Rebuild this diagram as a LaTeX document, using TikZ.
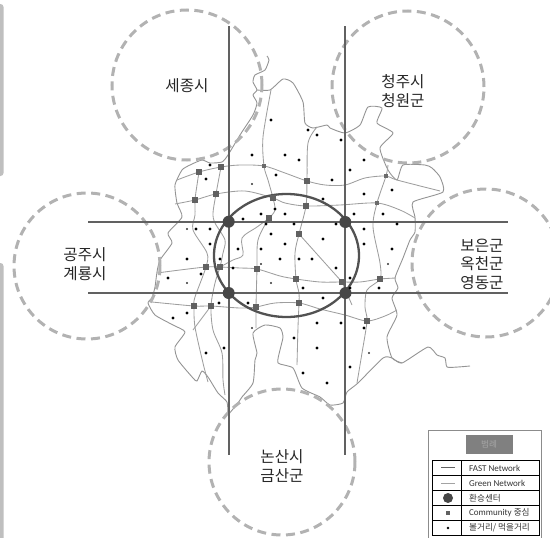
\documentclass[tikz,border=0pt]{standalone}
\usepackage{fontspec}
\setmainfont{Carlito}
\newfontfamily\krfont{Noto Sans CJK KR}
\tikzset{
  mapline/.style={draw=black!42,line width=0.9pt,line join=round},
  greenline/.style={draw=black!38,line width=0.85pt,line join=round},
  fastline/.style={draw=black!62,line width=1.8pt},
  ringline/.style={draw=black!68,line width=2.3pt},
  dashring/.style={draw=black!30,line width=3pt,dash pattern=on 9pt off 5.5pt},
  hubdot/.style={circle,fill=black!72,minimum size=12pt,inner sep=0pt},
  commbox/.style={rectangle,fill=black!62,minimum size=5.6pt,inner sep=0pt},
  smallbox/.style={rectangle,fill=black!58,minimum size=4.2pt,inner sep=0pt},
  place/.style={font=\krfont\fontsize{15.6}{18.6}\selectfont,text=black!85,align=center,inner sep=0pt},
  legtext/.style={font=\krfont\fontsize{8.6}{9}\selectfont,text=black!80,anchor=west,inner sep=0pt},
  latintext/.style={font=\fontsize{9}{9}\selectfont,text=black!80,anchor=west,inner sep=0pt},
}
\begin{document}
\begin{tikzpicture}[x=1pt,y=-1pt]
\useasboundingbox (0,0) rectangle (550,538);
\clip (0,0) rectangle (550,538);
% side tabs
\fill[black!25,rounded corners=3pt] (-10,4) rectangle (3.5,176);
\fill[black!25,rounded corners=3pt] (-10,263) rectangle (3.5,560);
% map outline
\draw[mapline] plot[smooth,tension=0.35] coordinates {(267,56)(269,60)(265,70)(255,75)(253,82)(257,90)(253,95)(257,103)(253,115)(240,135)(228,155)(222,162)(210,163)(202,160)(190,165)(182,170)(175,185)(177,203)(182,217)(168,233)(172,243)(160,260)(157,272)(155,287)(152,298)(148,303)(155,315)(173,325)(185,332)(175,347)(178,360)(193,378)(197,381)(202,371)(208,377)(218,393)(227,402)(228,415)};
\draw[mapline] plot[smooth,tension=0.35] coordinates {(228,415)(238,403)(242,397)(253,383)(255,360)(257,353)(253,333)(265,325)(280,328)(283,337)(280,350)(278,363)(293,368)(302,388)(320,397)(330,405)(343,403)(347,392)(358,383)(383,358)(392,358)(402,363)(428,347)(437,355)(445,358)(447,367)(458,367)(470,366)};
\draw[mapline] plot[smooth,tension=0.35] coordinates {(402,363)(392,358)(387,337)(397,315)(392,298)(398,288)(395,278)(403,258)(410,240)(415,232)(415,217)(413,202)(443,192)(440,177)(432,168)(425,165)(403,165)(397,180)(388,170)(380,148)(393,133)(377,123)(382,108)(368,107)(360,125)(345,133)(330,128)(327,125)(313,128)(305,123)(303,102)(293,83)(283,79)(270,90)(257,90)};
% community nodes
\foreach \n/\p in {a1/{199,172},a2/{221,167},a3/{307,181},a4/{386,176},
  b1/{195,200},b2/{216,194},b3/{273,198},b4/{306,206},b5/{377,203},
  c1/{206,267},c2/{220,267},c3/{257,269},c4/{296,279},c5/{342,282},c6/{380,279},
  d1/{194,306},d2/{211,306},d3/{256,307},d4/{299,303},d5/{367,321},
  e1/{269,218},e2/{299,234}}
  {\coordinate (\n) at (\p);}
% green network
\draw[greenline] plot[smooth,tension=0.5] coordinates {(177,180)(a1)(a2)(240,165)(264,166)(285,173)(a3)(325,185)(345,185)(365,178)(a4)(397,180)(440,191)};
\draw[greenline] plot[smooth,tension=0.5] coordinates {(175,204)(b1)(b2)(245,191)(b3)(285,203)(b4)(340,205)(b5)(400,210)(415,218)};
\draw[greenline] plot[smooth,tension=0.5] coordinates {(157,273)(180,270)(c1)(c2)(240,268)(c3)(280,276)(c4)(320,282)(c5)(360,282)(c6)(396,278)};
\draw[greenline] plot[smooth,tension=0.5] coordinates {(152,302)(d1)(d2)(240,308)(d3)(275,303)(d4)(320,309)(345,315)(d5)(385,316)(397,310)};
\draw[greenline] plot[smooth,tension=0.5] coordinates {(a1)(197,185)(b1)(195,215)(193,230)(207,253)(c1)(195,297)(d1)(195,327)(203,363)(208,382)};
\draw[greenline] (d2) -- (193,330);
\draw[greenline] plot[smooth,tension=0.5] coordinates {(a2)(b2)(213,213)(215,223)(225,240)(223,253)(c2)(215,283)(d2)(213,330)(222,353)(223,380)(225,395)};
\draw[greenline] plot[smooth,tension=0.5] coordinates {(271,90)(263,137)(264,166)(268,180)(b3)(275,210)(e1)(257,227)(242,238)(243,255)(233,260)(c2)};
\draw[greenline] plot[smooth,tension=0.5] coordinates {(e1)(258,240)(c3)(d3)(256,328)};
\draw[greenline] plot[smooth,tension=0.5] coordinates {(317,127)(308,143)(a3)(b4)(e2)(295,253)(c4)(299,293)(d4)(298,327)(297,365)};
\draw[greenline] (e2) -- (c5) -- (352,305);
\draw[greenline] plot[smooth,tension=0.5] coordinates {(388,165)(a4)(b5)(373,227)(380,263)(c6)(367,290)(365,307)(d5)(362,353)(357,383)};
% dashed neighbour circles
\node[place] (sejong) at (187,86) {세종시};
\node[place] (cheongju) at (403,91) {청주시\\청원군};
\node[place] (gongju) at (85,264) {공주시\\계룡시};
\node[place] (boeun) at (482,264) {보은군\\옥천군\\영동군};
\node[place] (nonsan) at (282,466) {논산시\\금산군};
\draw[dashring] (187,85) circle[radius=75pt];
\draw[dashring] (408,87) circle[radius=76pt];
\draw[dashring] (87,266) circle[radius=73pt];
\draw[dashring] (486,263) circle[radius=74pt];
\draw[dashring] (282,462) circle[radius=73pt];
% FAST network
\coordinate (nw) at (228.7,26); \coordinate (sw) at (228.7,455);
\coordinate (ne) at (345,26); \coordinate (se) at (345,455);
\coordinate (wn) at (88,221.7); \coordinate (en) at (508,221.7);
\coordinate (ws) at (88,293); \coordinate (es) at (508,293);
\draw[fastline] (nw) -- (sw);
\draw[fastline] (ne) -- (se);
\draw[fastline] (wn) -- (en);
\draw[fastline] (ws) -- (es);
\draw[ringline] (286.5,255.5) ellipse[x radius=72.5pt,y radius=61.5pt];
\node[hubdot] (h1) at (228.7,221.7) {};
\node[hubdot] (h2) at (345.3,222) {};
\node[hubdot] (h3) at (228.7,293) {};
\node[hubdot] (h4) at (345.5,293) {};
% community squares
\foreach \n in {a1,a2,a3,b1,b2,b3,b4,c1,c2,c3,c4,c5,c6,d1,d2,d3,d4,d5,e1,e2}
  {\node[commbox] at (\n) {};}
\node[smallbox] at (a4) {};
\node[smallbox] at (b5) {};
\node[smallbox] at (264,166) {};
% attractions
\foreach \p in {{271,120},{308,130},{252,155},{285,155},{299,160},{210,165},{206,179},{276,175},{275,209},{261,214},{285,214},{243,219},{266,224},{294,224},{271,234},{196,229},{210,229},{317,135},{341,140},{364,160},{350,170},{332,180},{392,190},{364,194},{323,199},{354,214},{383,214},{336,224},{397,224},{364,229},{323,239},{285,244},{210,244},{261,249},{238,249},{187,259},{220,259},{280,259},{299,259},{233,268},{201,274},{168,278},{303,288},{219,303},{248,303},{187,313},{173,318},{294,338},{224,348},{206,353},{303,373},{364,244},{392,249},{312,259},{336,268},{350,278},{350,288},{379,288},{323,298},{317,323},{341,323},{364,328},{317,348},{350,367},{327,383}}
  {\fill[black] (\p) circle[radius=1.6pt];}
\foreach \p in {{252,184},{187,229},{261,264},{187,283},{271,283},{252,328},{388,264},{369,353}}
  {\fill[black!80] (\p) circle[radius=1.1pt];}
% legend
\draw[black!45,fill=white,line width=0.7pt] (428.5,430) rectangle (541.5,545);
\node[fill=black!50,minimum width=47pt,minimum height=19pt,inner sep=0pt,font=\krfont\fontsize{8.6}{9}\selectfont,text=black!35] (legtitle) at (489,444.5) {범례};
\draw[black,line width=0.7pt] (432.7,460) rectangle (539,535);
\foreach \y in {475.7,490.7,505,520} {\draw[black,line width=0.7pt] (432.7,\y) -- (539,\y);}
\draw[black,line width=0.7pt] (461.7,460) -- (461.7,535);
\coordinate (l1a) at (441,467.5); \coordinate (l1b) at (455,467.5);
\coordinate (l2a) at (441,483); \coordinate (l2b) at (455,483);
\draw[fastline] (l1a) -- (l1b);
\draw[draw=black!36,line width=0.7pt] (l2a) -- (l2b);
\node[hubdot,minimum size=10pt] (leghub) at (448,498) {};
\node[commbox,minimum size=4pt] (legcomm) at (448,513) {};
\fill[black] (448,528) circle[radius=1.4pt];
\node[latintext] (t1) at (469,468) {FAST Network};
\node[latintext] (t2) at (469,483.5) {Green Network};
\node[legtext] (t3) at (469,498) {환승센터};
\node[latintext] (t4) at (469,513) {Community \krfont\fontsize{8.6}{9}\selectfont 중심};
\node[legtext] (t5) at (469,528) {볼거리/ 먹을거리};
\end{tikzpicture}
\end{document}
